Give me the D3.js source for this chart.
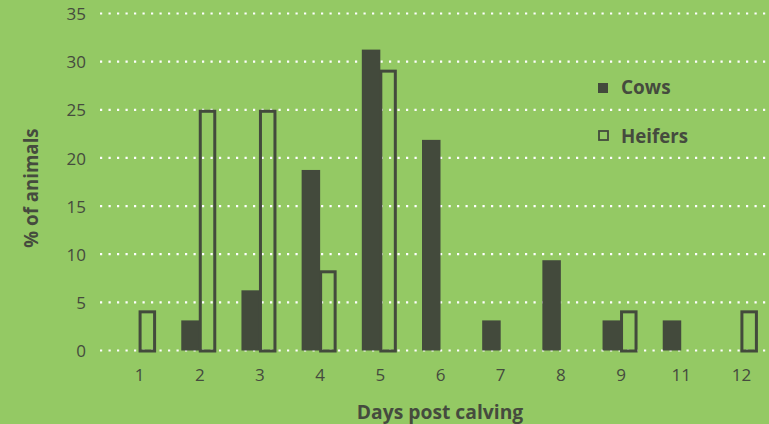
<!DOCTYPE html>
<html>
<head>
<meta charset="utf-8">
<script src="https://cdn.jsdelivr.net/npm/d3@7"></script>
<style>
  html, body { margin: 0; padding: 0; background: #94c964; }
  svg { display: block; }
  text { font-family: "Open Sans", "Noto Sans", sans-serif; fill: #454b3e; }
</style>
</head>
<body>
<svg id="chart" width="769" height="424"></svg>
<script>
const days = ["1","2","3","4","5","6","7","8","9","11","12"];
const cows = [0, 3.125, 6.25, 18.75, 31.25, 21.875, 3.125, 9.375, 3.125, 3.125, 0];
const heifers = [4.17, 25, 25, 8.33, 29.17, 0, 0, 0, 4.17, 0, 4.17];
const yTicks = [0, 5, 10, 15, 20, 25, 30, 35];
const seriesNames = ["Cows", "Heifers"];

const W = 769, H = 424;
const dark = "#434a3c";
const svg = d3.select("#chart");

svg.append("rect").attr("width", W).attr("height", H).attr("fill", "#94c964");

const x = d3.scalePoint().domain(days).range([109, 771]).padding(0.5);
const y = d3.scaleLinear().domain([0, 35]).range([350.5, 13.5]);
const sub = d3.scaleBand().domain(seriesNames).range([-18, 17]);

// gridlines
svg.append("g").selectAll("line").data(yTicks).join("line")
  .attr("x1", 100).attr("x2", W)
  .attr("y1", d => y(d)).attr("y2", d => y(d))
  .attr("stroke", "#ffffff").attr("stroke-width", 2.2)
  .attr("stroke-dasharray", "2.2 6.3");

// y axis labels
const yAxis = d3.axisLeft(y).tickValues(yTicks).tickSize(0).tickPadding(0);
const gy = svg.append("g").attr("transform", "translate(86,0)").call(yAxis);
gy.select(".domain").remove();
gy.selectAll("text").attr("font-size", 17).attr("fill", "#454b3e")
  .attr("font-family", "'Open Sans', sans-serif").attr("dy", "0.36em");

// x axis labels
const xAxis = d3.axisBottom(x).tickSize(0).tickPadding(0);
const gx = svg.append("g").attr("transform", "translate(0,368)").call(xAxis);
gx.select(".domain").remove();
gx.selectAll("text").attr("font-size", 17).attr("fill", "#454b3e")
  .attr("font-family", "'Open Sans', sans-serif").attr("dy", "0.75em");

// cows bars
svg.append("g").selectAll("rect").data(days.map((d, i) => ({d, v: cows[i]})).filter(o => o.v > 0))
  .join("rect")
  .attr("x", o => x(o.d) + sub("Cows"))
  .attr("width", sub.bandwidth() + 1)
  .attr("y", o => y(o.v))
  .attr("height", o => y(0) - y(o.v))
  .attr("fill", dark);

// heifers bars (outlined)
const sw = 3;
svg.append("g").selectAll("rect").data(days.map((d, i) => ({d, v: heifers[i]})).filter(o => o.v > 0))
  .join("rect")
  .attr("x", o => x(o.d) + sub("Heifers") + sw / 2)
  .attr("width", sub.bandwidth() - sw)
  .attr("y", o => y(o.v) + sw / 2)
  .attr("height", o => y(0) - y(o.v) - sw / 2 + 0.5)
  .attr("fill", "none")
  .attr("stroke", dark)
  .attr("stroke-width", sw);

// legend
svg.append("rect").attr("x", 598).attr("y", 83).attr("width", 10).attr("height", 10).attr("fill", dark);
svg.append("text").attr("x", 621).attr("y", 94).attr("font-size", 19).attr("font-weight", "bold").text("Cows");
svg.append("rect").attr("x", 599).attr("y", 131).attr("width", 9).attr("height", 9)
  .attr("fill", "none").attr("stroke", dark).attr("stroke-width", 1.8);
svg.append("text").attr("x", 621).attr("y", 143).attr("font-size", 18.7).attr("font-weight", "bold").text("Heifers");

// axis titles
svg.append("text").attr("transform", "translate(37.5,188) rotate(-90)")
  .attr("text-anchor", "middle").attr("font-size", 18.7).attr("font-weight", "bold").text("% of animals");
svg.append("text").attr("x", 440).attr("y", 419)
  .attr("text-anchor", "middle").attr("font-size", 19.3).attr("font-weight", "bold").text("Days post calving");
</script>
</body>
</html>
